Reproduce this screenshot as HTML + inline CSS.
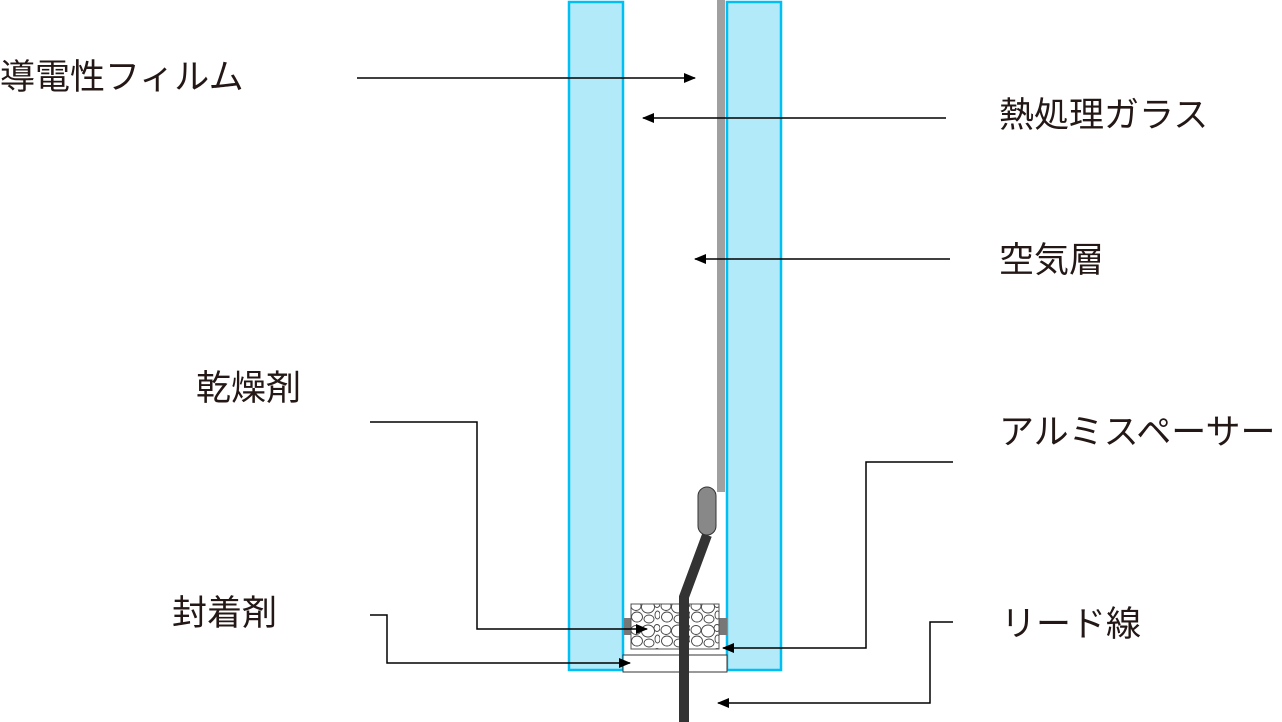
<!DOCTYPE html>
<html><head><meta charset="utf-8"><style>
body{margin:0;width:1282px;height:722px;background:#fff;overflow:hidden;position:relative}
.t{position:absolute;font-family:"Liberation Sans","Noto Sans CJK JP",sans-serif;font-size:35px;color:#231815;line-height:1;white-space:nowrap;font-weight:400}
svg{position:absolute;left:0;top:0}
</style></head><body>
<svg width="1282" height="722">
<defs><marker id="a" markerWidth="12" markerHeight="10" refX="11" refY="5" orient="auto" markerUnits="userSpaceOnUse"><path d="M0,0L12,5L0,10z" fill="#000"/></marker>
<pattern id="p" width="30" height="24" patternUnits="userSpaceOnUse"><rect width="30" height="24" fill="#fff"/><g fill="none" stroke="#444" stroke-width="0.9"><ellipse cx="6" cy="6" rx="5" ry="4.5"/><ellipse cx="18" cy="7" rx="6.5" ry="6"/><ellipse cx="27" cy="4" rx="3" ry="3.5"/><ellipse cx="7" cy="17" rx="5.5" ry="5"/><ellipse cx="19" cy="19" rx="5" ry="4"/><ellipse cx="27.5" cy="15" rx="2.5" ry="4"/></g></pattern></defs>
<rect x="569" y="2" width="54" height="668" fill="#b3eaf9" stroke="#00bff3" stroke-width="2.5"/>
<rect x="727" y="2" width="54" height="668" fill="#b3eaf9" stroke="#00bff3" stroke-width="2.5"/>
<rect x="717" y="0" width="8" height="492" fill="#a0a0a0"/>
<rect x="623" y="655" width="104" height="17" fill="#fff" stroke="#333" stroke-width="1"/>
<rect x="624" y="618" width="8" height="17" fill="#777"/>
<rect x="719" y="618" width="8" height="17" fill="#777"/>
<rect x="631" y="604" width="88" height="45" fill="url(#p)" stroke="#555" stroke-width="1"/>
<polyline points="684,722 684,597 707,535" fill="none" stroke="#333" stroke-width="10"/>
<rect x="698" y="487" width="18" height="48" rx="9" fill="#888" stroke="#333" stroke-width="1"/>
<g stroke="#000" stroke-width="1.5" fill="none" marker-end="url(#a)">
<line x1="357" y1="78" x2="695" y2="78"/>
<line x1="946" y1="118" x2="643" y2="118"/>
<line x1="950" y1="259" x2="695" y2="259"/>
<polyline points="370,422 477,422 477,629 647,629"/>
<polyline points="370,615 387,615 387,663 630,663"/>
<polyline points="953,462 866,462 866,648 723,648"/>
<polyline points="953,622 930,622 930,703 718,703"/>
</g>
</svg>
<div class="t" style="left:0;top:60px">導電性フィルム</div>
<div class="t" style="left:999px;top:98px">熱処理ガラス</div>
<div class="t" style="left:999px;top:243px">空気層</div>
<div class="t" style="left:196px;top:371px">乾燥剤</div>
<div class="t" style="left:999px;top:415px">アルミスペーサー</div>
<div class="t" style="left:172px;top:596px">封着剤</div>
<div class="t" style="left:1001px;top:607px">リード線</div>
</body></html>
